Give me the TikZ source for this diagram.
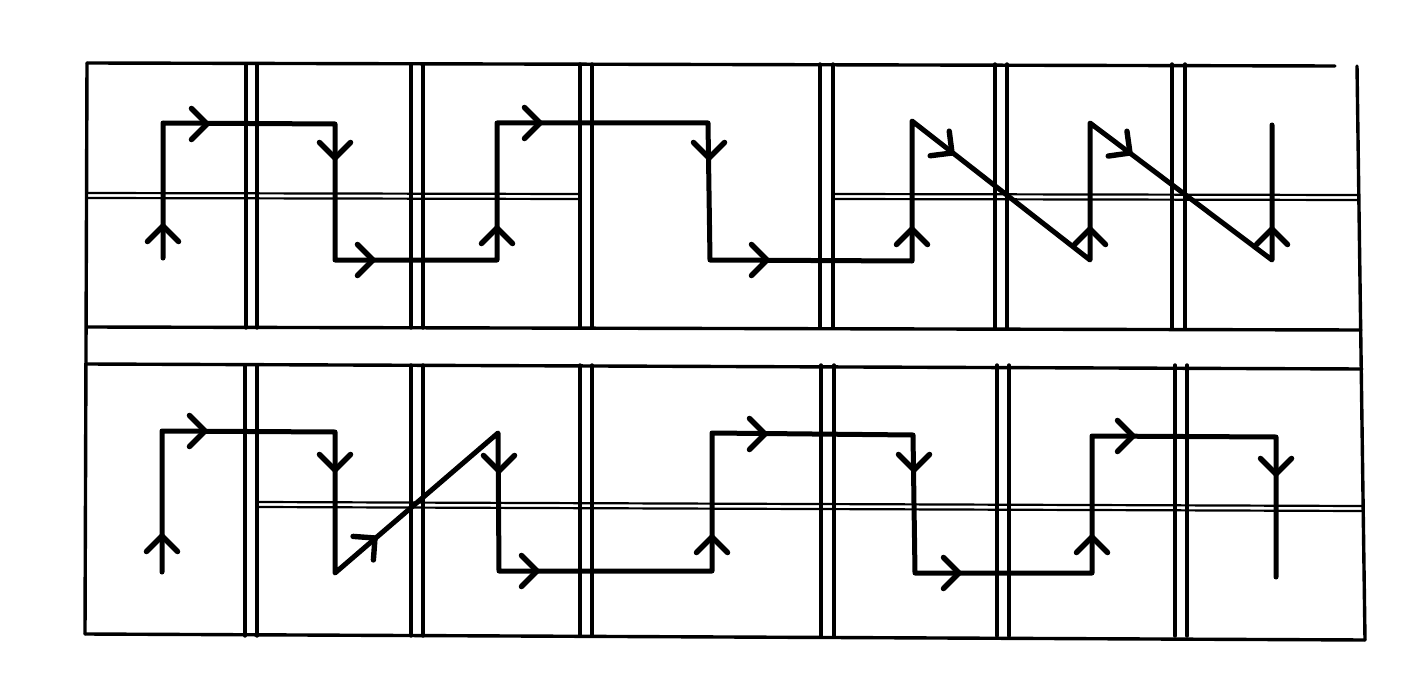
\documentclass[tikz,border=0pt]{standalone}
\newcommand\chv[3]{\draw[chevron] (#1,#2) ++(#3+135:22) -- (#1,#2) -- ++(#3-135:22);}
\begin{document}
\begin{tikzpicture}[x=1pt,y=-1pt,
  frame/.style={line width=3.4pt,line cap=round},
  thin2/.style={line width=2.2pt},
  route/.style={line width=5pt,line join=round,line cap=round},
  chevron/.style={line width=5.4pt,line join=miter,line cap=round}]
\useasboundingbox (0,0) rectangle (1408,690);
\fill[white] (0,0) rectangle (1408,690);
% outer frame and row bands
\draw[frame] (87,63) -- (1335,66);
\draw[frame] (87,63) -- (85,634);
\draw[frame] (1357,66) -- (1365,640);
\draw[frame] (87,327) -- (1361,330);
\draw[frame] (86,364) -- (1362,369);
\draw[frame] (85,634) -- (1365,640);
% vertical double lines, top row
\foreach \a/\b in {246/257, 411/423, 580/592, 820/833, 995/1007, 1172/1185}{
  \draw[frame] (\a,64) -- (\a,328);
  \draw[frame] (\b,64) -- (\b,328);
}
% vertical double lines, bottom row
\foreach \a/\b in {245/257, 411/423, 580/592, 821/834, 997/1009, 1175/1187}{
  \draw[frame] (\a,365) -- (\a,636);
  \draw[frame] (\b,365) -- (\b,636);
}
% horizontal double lines
\draw[thin2] (87,193) -- (580,194);
\draw[thin2] (87,198) -- (580,199);
\draw[thin2] (833,194) -- (1359,195);
\draw[thin2] (833,199) -- (1359,200);
\draw[thin2] (257,502) -- (1362,506);
\draw[thin2] (257,507) -- (1362,511);
% top route
\draw[route] (163,258) -- (163,123) -- (335,124) -- (335,260) -- (497,260) -- (497,123)
  -- (708,123) -- (710,260) -- (912,261) -- (912,121) -- (1090,260) -- (1090,123)
  -- (1272,260) -- (1272,125);
\chv{163}{226}{-90}
\chv{207}{124}{0}
\chv{335}{158}{90}
\chv{373}{260}{0}
\chv{497}{228}{-90}
\chv{540}{123}{0}
\chv{709}{158}{90}
\chv{767}{260}{0}
\chv{912}{229}{-90}
\chv{952}{153}{37.8}
\chv{1090}{229}{-90}
\chv{1130}{153}{37}
\chv{1272}{229}{-90}
% bottom route
\draw[route] (162,572) -- (162,431) -- (335,432) -- (335,573) -- (498,433) -- (499,571)
  -- (712,571) -- (712,433) -- (913,435) -- (915,573) -- (1092,573) -- (1092,436)
  -- (1276,437) -- (1276,577);
\chv{162}{536}{-90}
\chv{205}{431}{0}
\chv{335}{470}{90}
\chv{375}{538}{-40.8}
\chv{499}{471}{90}
\chv{537}{571}{0}
\chv{712}{537}{-90}
\chv{765}{434}{0}
\chv{914}{470}{90}
\chv{959}{573}{0}
\chv{1092}{537}{-90}
\chv{1133}{436}{0}
\chv{1276}{474}{90}
\end{tikzpicture}
\end{document}
